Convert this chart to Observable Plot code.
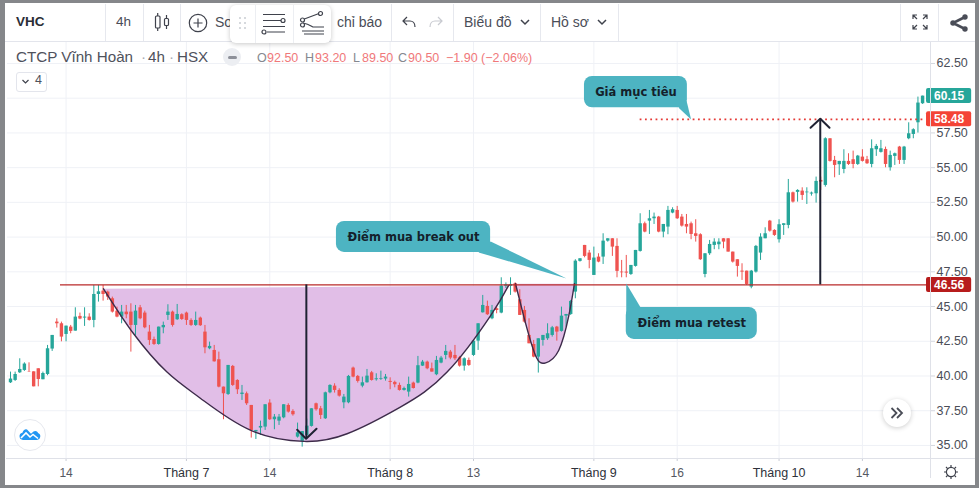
<!DOCTYPE html>
<html lang="vi">
<head>
<meta charset="utf-8">
<script src="https://cdn.jsdelivr.net/npm/d3@7"></script>
<script src="https://cdn.jsdelivr.net/npm/@observablehq/plot@0.6"></script>
<style>
html,body{margin:0;padding:0;background:#fff}
#page{position:relative;width:979px;height:488px;overflow:hidden;font-family:"Liberation Sans",Arial,sans-serif;color:#4a4d57}
#chart{position:absolute;left:0;top:0}
.t{position:absolute;white-space:nowrap;line-height:1}
svg.ic{position:absolute;overflow:visible}
</style>
</head>
<body>
<div id="page"></div>
<script>
const opens=[39.51,39.68,40.23,40.4,40.28,40.3,40.52,39.73,40.11,41.94,43.88,43.76,42.99,43.52,43.23,44.29,44.17,44.24,44,45.87,46.11,46.04,45.56,44.67,44.24,44.6,44.6,43.64,44.91,44.53,43.16,42.63,42.27,43.47,44.36,44.6,44.05,44.41,44.53,44,43.64,44.17,43.16,41.96,41.84,41.17,39.2,38.67,40.69,39.68,38.67,38.72,
37.88,35.98,36.25,36.32,38.05,36.85,36.75,36.99,37.88,37.45,35.6,35.29,35.72,36.37,38,37.64,36.92,38.79,39.27,38.96,38.07,38.07,40.57,39.97,39.27,39.51,40.23,39.73,39.75,39.78,39.61,39.54,39.32,38.96,38.84,39.49,39.49,40.71,41,40.52,40.09,40.93,41.48,41.72,41.48,41.31,40.71,41.12,41.48,42.51,44.55,45.01,
44.12,44.84,44.53,46.45,46.45,46.64,45.49,44.72,42.92,42.27,41.36,42.56,42.68,42.92,43.52,43.21,44.31,44.43,46.04,48.25,49.4,48.85,47.24,48.56,48.56,49.71,49.88,49.33,47.48,47.48,47.31,47.89,48.97,50.96,51.15,51.32,51.44,50.36,50.72,51.73,51.92,51.44,50.91,50.96,50.24,50.17,47.31,48.8,49.4,49.45,49.88,49.88,
48.92,48.37,47.55,47.55,46.4,47.48,48.85,49.88,51.15,50.48,49.81,50.84,50.84,53.19,53.22,53.31,53.19,53.1,53.12,54.08,53.72,57.08,55.52,55.21,54.87,55.45,55.57,55.23,55.76,55.57,55.23,56.29,56.1,56.31,54.99,55.81,56.48,55.52,57.08,57.39,58.23,59.6];
const highs=[40.28,40.28,41.24,40.95,40.95,40.3,40.52,40.28,42.2,42.92,44.12,43.88,43.59,43.64,44.91,44.53,44.91,44.48,46.52,46.52,46.52,46.11,45.68,44.96,45.08,45.08,45.2,45.08,45.08,44.67,43.64,42.8,43.52,43.88,45.13,44.67,45.15,44.48,44.6,44.12,44.6,44.24,43.64,42.44,42.2,41.72,39.2,40.76,40.76,39.73,39.32,38.84,
37.88,36.08,36.75,37.93,38.29,37.23,37.23,37.93,38,37.57,36.61,36,36.9,37.64,38.05,37.81,38.84,39.37,39.44,39.08,38.67,40.04,40.64,40.04,39.92,40.47,40.33,40.16,40.35,40.11,39.87,39.63,39.49,39.2,39.92,39.56,41.41,41.12,41.07,40.93,41.41,41.41,42.2,41.84,42.2,41.41,41.31,41.29,42.56,43.76,45.8,45.39,
45.08,44.96,47.07,46.7,47.07,46.71,46.21,45.01,44.12,42.56,42.68,42.92,43.76,43.57,43.57,44.96,44.43,45.44,48.37,48.44,49.4,49.04,49.28,48.8,50.24,49.88,49.88,49.88,48.32,48.68,47.96,49.04,51.68,51.08,51.92,51.73,51.49,50.91,52.21,52.11,52.21,51.63,51.63,51.08,51.25,50.24,48.8,49.76,49.88,49.88,49.88,49.88,
48.92,48.37,48.08,47.55,47.6,49.4,50.24,50.67,51.2,50.53,51.25,50.96,54.15,53.24,53.41,53.55,53.55,53.24,54.32,54.32,57.15,57.08,55.81,55.45,56.29,56,56.19,55.88,56.29,55.81,57,56.67,56.96,56.48,56.19,56.05,56.53,56.53,58.23,57.8,60.08,60.15];
const lows=[39.46,39.61,40.18,40.33,40.26,39.22,39.22,39.73,40.02,41.77,43.45,42.46,42.46,43.04,43.23,44.05,43.57,43.95,43.47,45.32,45.39,45.44,44.53,44.19,43.76,44.12,41.72,42.92,44.05,43.4,42.2,42.2,42.22,43.04,44,43.52,44,44,43.64,43.57,43.57,43.57,41.6,41.89,41,39.15,36.85,38.6,39.25,38.67,38.24,37.88,
35.53,35.43,35.72,36.08,36.8,36.13,36.44,36.92,37.33,37.11,35.53,34.88,35.6,36.32,37.47,36.87,36.87,38.72,38.77,38.48,37.64,38,39.87,39.49,39.15,39.49,39.63,39.63,39.68,39.63,39.01,39.15,38.91,38.91,38.48,39.06,39.44,40.69,40.45,40.28,40.02,40.88,41.17,41.17,41.12,40.64,40.35,40.69,41.41,41.84,44.53,44.36,
44.05,44.48,44.48,46.3,45.8,45.97,44.36,43.81,42.32,41.31,40.21,42.15,42.56,42.8,42.51,43.16,43.52,44.36,45.56,48.2,48.51,47.72,47.24,48.15,48.03,49.64,48.61,47.07,47.07,47.07,47.24,47.84,48.92,50.31,50.19,50.91,50.31,49.95,50.17,51.68,51.27,50.72,50.24,49.81,49.64,48.32,47.07,48.68,49.09,49.09,49.16,48.92,
48.13,47.12,46.88,46.52,46.28,47.41,48.32,49.88,50.36,50.05,49.57,50.12,50.6,52.45,52.52,52.64,52.35,52.95,52.45,53.36,53.6,55.4,54.27,54.44,54.56,55.16,54.92,55.16,55.4,55.23,54.99,55.81,56.05,54.99,54.75,55.16,55.23,55.23,57.01,57.08,57.49,59.55];
const closes=[39.78,40.11,40.47,40.86,40.26,39.22,39.75,40.18,41.96,42.92,43.76,42.8,43.59,43.21,44.24,44.1,44.24,44,45.87,46.06,45.87,45.68,44.6,44.24,44.6,44.41,43.64,44.67,44.12,43.47,42.56,42.27,43.52,43.64,44.6,43.64,44.43,44.07,44,43.64,44,43.62,42.03,42.13,41.02,39.2,38.72,40.76,39.32,39.01,38.77,38,
36.08,36.08,36.37,37.93,36.85,37.04,37.04,37.93,37.4,37.21,35.91,36,36.39,37.64,37.57,37.16,38.79,39.32,38.96,38.55,38.48,39.97,39.92,39.61,39.51,39.99,39.68,39.8,39.8,39.92,39.54,39.37,38.96,39.1,39.39,39.1,40.74,41,40.52,40.28,41.12,41.29,41.77,41.29,41.24,40.71,41.24,40.76,42.51,43.76,45.08,44.41,
44.72,44.72,46.47,46.57,46.59,46.04,44.36,43.88,42.32,41.36,42.68,42.92,43.04,43.47,43.16,44.31,44.43,45.37,48.27,48.44,48.61,48.32,48.49,48.2,49.71,49.88,49.28,47.53,47.43,47.41,47.96,49.04,50.96,50.36,51.32,51.44,50.36,50.91,51.92,51.97,51.32,50.79,50.72,50.19,50.05,48.37,48.8,49.47,49.64,49.64,49.64,48.92,
48.2,47.89,47.48,46.59,47.55,49.33,50,50.24,50.43,50.12,50.89,50.96,53.19,52.52,53.36,53,53.24,53.17,54.01,53.96,57.08,55.45,55.16,55.45,55.45,55.23,55.23,55.83,55.45,55.28,56.36,56.53,56.36,55.23,55.88,56,55.52,56.48,57.44,57.73,59.65,60.15];

const dayTicks=[12,56,100,144,184];
const dayLabels=["14","14","13","16","14"];
const monthTicks=[38,82,126,166];
const monthLabels=["Tháng 7","Tháng 8","Tháng 9","Tháng 10"];
const priceGrid=[35,37.5,40,42.5,45,47.5,50,52.5,55,57.5,60,62.5];
const priceLabels=[35,37.5,40,42.5,45,47.5,50,52.5,55,57.5,62.5];

const cupX=[20.09,26.6,33.8,41,51.8,63.4,72.7,84.2,94.3,103.7,107.6];
const cupY=[46.28,43.04,40.28,38.4,36.1,35.29,35.84,37.76,40.28,44.35,46.52];
const handleX=[109.07,110.9,113.4,115.6,118.4,120.6,121.8];
const handleY=[46.64,44.24,41.48,40.95,41.84,44.36,46.64];

const neckline=46.56, target=58.48;
const tagValues=[60.15,58.48,46.56];
const tagColors=["#26a69a","#f44336","#b71c1c"];

const callouts=[
 {text:"Giá mục tiêu",x1:123.97,x2:146.2,y1:59.31,y2:61.57,tx:[144.3,147,146],ty:[59.31,58.47,59.84]},
 {text:"Điểm mua break out",x1:70.4,x2:103.7,y1:48.9,y2:51.13,tx:[101.1,120.1,103.7],ty:[48.9,47.02,49.69]},
 {text:"Điểm mua retest",x1:133,x2:161.3,y1:42.63,y2:44.94,tx:[133,133,136.1],ty:[44,46.66,44.94]}
];
const arrows=[
 {x:63.9,from:neckline,to:35.5,hx:[61.92,63.85,66.1],hy:[36.13,35.48,36.2]},
 {x:174.9,from:neckline,to:58.48,hx:[172.8,174.9,176.9],hy:[57.87,58.52,57.87]}
];

const green="#26a69a", red="#ef5350", ink="#1f2233", tealBox="#4db4c2", purple="#e1bee7";
const idx=d3.range(opens.length);
const candleColor=i=>closes[i]>=opens[i]?green:red;
const pairs=(xs,ys)=>xs.map((x,i)=>({x,y:ys[i]}));

const chart=Plot.plot({
  width:979,height:488,
  marginTop:42,marginBottom:30,marginLeft:7,marginRight:49,
  style:{background:"transparent",fontFamily:'"Liberation Sans",Arial,sans-serif',overflow:"visible"},
  x:{domain:[-0.648,198.71]},
  y:{domain:[34.06,64.01]},
  color:{type:"identity"},
  marks:[
    Plot.gridY(priceGrid,{stroke:"#eff1f6",strokeOpacity:1}),
    Plot.gridX([...dayTicks,...monthTicks],{stroke:"#eff1f6",strokeOpacity:1}),
    Plot.line(pairs(cupX,cupY),{x:"x",y:"y",fill:purple,stroke:"none",curve:"natural"}),
    Plot.line(pairs(handleX,handleY),{x:"x",y:"y",fill:purple,stroke:"none",curve:"natural"}),
    Plot.ruleX(idx,{x:i=>i,y1:i=>lows[i],y2:i=>highs[i],stroke:candleColor,strokeWidth:1}),
    Plot.ruleX(idx,{x:i=>i,y1:i=>opens[i],y2:i=>closes[i],stroke:candleColor,strokeWidth:3.4}),
    Plot.line(pairs(cupX,cupY),{x:"x",y:"y",stroke:"#3d2b4a",strokeWidth:1.4,curve:"natural"}),
    Plot.line(pairs(handleX,handleY),{x:"x",y:"y",stroke:"#3d2b4a",strokeWidth:1.4,curve:"natural"}),
    Plot.ruleY([neckline],{x1:10.8,x2:198.71,stroke:"#b92a2a",strokeWidth:1.2}),
    Plot.ruleY([target],{x1:136,x2:197.5,stroke:"#e53935",strokeWidth:1.8,strokeDasharray:"1.8 3.5"}),
    ...arrows.flatMap(a=>[
      Plot.ruleX([a.x],{y1:a.from,y2:a.to,stroke:ink,strokeWidth:2}),
      Plot.line(pairs(a.hx,a.hy),{x:"x",y:"y",stroke:ink,strokeWidth:2})
    ]),
    ...callouts.flatMap(c=>[
      Plot.line(pairs(c.tx,c.ty),{x:"x",y:"y",fill:tealBox,stroke:"none"}),
      Plot.rect([c],{x1:"x1",x2:"x2",y1:"y1",y2:"y2",fill:tealBox,rx:8}),
      Plot.text([c],{x:d=>(d.x1+d.x2)/2,y:d=>(d.y1+d.y2)/2,text:"text",fill:"#14212b",fontWeight:"bold",fontSize:11.5,fontFamily:'"DejaVu Sans",sans-serif'})
    ]),
    Plot.axisY(priceLabels,{anchor:"right",tickSize:4,tickPadding:2,tickFormat:d=>d.toFixed(2),label:null,fill:"#4a4d57",stroke:"#d4d7df",fontSize:12.5}),
    Plot.axisX(dayTicks,{anchor:"bottom",tickSize:3,tickPadding:7,tickFormat:(d,i)=>dayLabels[dayTicks.indexOf(d)],label:null,fill:"#555862",stroke:"#c9ccd5",fontSize:12}),
    Plot.axisX(monthTicks,{anchor:"bottom",tickSize:3,tickPadding:7,tickFormat:(d,i)=>monthLabels[monthTicks.indexOf(d)],label:null,fill:"#2e313a",stroke:"#c9ccd5",fontSize:12.5}),
    Plot.rect(tagValues,{x1:197.85,x2:207.6,y1:d=>d-0.54,y2:d=>d+0.54,fill:(d,i)=>tagColors[i],rx:2}),
    Plot.text(tagValues,{x:202.72,y:d=>d,text:d=>d.toFixed(2),fill:"#fff",fontWeight:"bold",fontSize:12})
  ]
});
chart.id="chart";

const page=document.getElementById("page");
page.appendChild(chart);

function addText(s,x,y,size,color,weight){
  const e=document.createElement("div");e.className="t";e.textContent=s;
  e.style.cssText=`left:${x}px;top:${y-size/2-0.5}px;font-size:${size}px;color:${color||"#4a4d57"};font-weight:${weight||400}`;
  page.appendChild(e);return e;
}
function addBox(css){const e=document.createElement("div");e.style.cssText="position:absolute;"+css;page.appendChild(e);return e;}
function addSvg(x,y,w,h,inner){
  page.insertAdjacentHTML("beforeend",`<svg class="ic" style="left:${x}px;top:${y}px" width="${w}" height="${h}" viewBox="0 0 ${w} ${h}" fill="none" stroke="#3f424c" stroke-width="1.2">${inner}</svg>`);
}

/* panes */
addBox("left:0;top:41px;width:979px;height:1px;background:#e3e5ec");
addBox("left:930px;top:42px;width:1px;height:436px;background:#dfe1e8");
addBox("left:6px;top:458px;width:969px;height:1px;background:#dfe1e8");

/* toolbar */
[105,143,180,391,453,540,618,900,938].forEach(x=>addBox(`left:${x}px;top:4px;height:37px;width:1px;background:#e6e8ee`));
addText("VHC",16,22,13.5,"#2a2d36",700);
addText("4h",116,22,13.5);
addSvg(152,12,20,20,`<rect x="3.5" y="4" width="4.5" height="12" rx="1"/><path d="M5.7 1v3M5.7 16v3"/><rect x="12.5" y="6.5" width="4" height="7" rx="1"/><path d="M14.5 3v3.5M14.5 13.5v3.5"/>`);
addSvg(188,13,20,20,`<circle cx="10" cy="10" r="8.7"/><path d="M10 5.5v9M5.5 10h9"/>`);
addText("So",215,22,14);
addText("chỉ báo",337,22,14);
addSvg(401,15,16,14,`<path d="M14 12c0-4-2.5-6-5-6H2M6 2L2 6l4 4"/>`);
addSvg(428,15,16,14,`<path stroke="#c8cad0" d="M2 12c0-4 2.5-6 5-6h7M10 2l4 4-4 4"/>`);
addText("Biểu đồ",464,22,14);
addSvg(519,18,12,8,`<path stroke-width="1.5" d="M2 2l4 4 4-4"/>`);
addText("Hồ sơ",551,22,14);
addSvg(596,18,12,8,`<path stroke-width="1.5" d="M2 2l4 4 4-4"/>`);
addSvg(911,13,18,18,`<path d="M2 6V2h4M2 2l4 4M16 6V2h-4M16 2l-4 4M2 12v4h4M2 16l4-4M16 12v4h-4M16 16l-4-4"/>`);
addSvg(949,13,20,20,`<g stroke-width="2.6" stroke="#4a4d57"><path d="M16 4L4 10l12 6"/></g><circle cx="16" cy="4" r="2.7" fill="#4a4d57" stroke="none"/><circle cx="4" cy="10" r="2.7" fill="#4a4d57" stroke="none"/><circle cx="16" cy="16" r="2.7" fill="#4a4d57" stroke="none"/>`);

/* floating drawing toolbar */
addBox("left:230px;top:5px;width:101px;height:38px;background:#fff;border-radius:6px;box-shadow:0 1px 5px rgba(0,0,0,.22)");
addBox("left:255px;top:5px;width:1px;height:38px;background:#eceef2");
addBox("left:293px;top:5px;width:1px;height:38px;background:#eceef2");
addSvg(238,16,10,14,`<g fill="#c9ccd2" stroke="none"><circle cx="2" cy="2" r="1"/><circle cx="7" cy="2" r="1"/><circle cx="2" cy="7" r="1"/><circle cx="7" cy="7" r="1"/><circle cx="2" cy="12" r="1"/><circle cx="7" cy="12" r="1"/></g>`);
addSvg(261,12,26,24,`<path d="M2 2.5h22M2 8.5h18M6 20h18M2 14.5h22"/><circle cx="22" cy="8.5" r="2" fill="#fff"/><circle cx="3" cy="20" r="2" fill="#fff"/>`);
addSvg(299,11,26,24,`<path d="M4 8.5L20 2.5M4 12c6 1 8 3 10 4h11M3 20h22M5 23h20"/><circle cx="3.5" cy="9" r="2" fill="#fff"/><circle cx="21.5" cy="2.5" r="2" fill="#fff"/><circle cx="3.5" cy="14" r="2" fill="#fff"/>`);

/* legend */
addText("CTCP Vĩnh Hoàn",16,57,15.2,"#4f525c");
addText("·",141,57,15.2,"#a9abb3");
addText("4h",148,57,15.2,"#4f525c");
addText("·",169,57,15.2,"#a9abb3");
addText("HSX",177,57,15.2,"#4f525c");
addBox("left:223px;top:48px;width:18px;height:18px;border-radius:50%;background:#eceef2");
addBox("left:228px;top:56px;width:9px;height:3px;border-radius:1.5px;background:#8d9099");
const sal="#f0787a", gr="#85888f";
[["O",257,gr],["92.50",267,sal],["H",305,gr],["93.20",315,sal],["L",353,gr],["89.50",362,sal],["C",398,gr],["90.50",408,sal],["−1.90 (−2.06%)",446,sal]]
  .forEach(([s,x,c])=>addText(s,x,59,12.5,c));
addBox("left:16px;top:72px;width:29px;height:18px;border:1px solid #e3e5ec;border-radius:3px;background:#fff");
addSvg(21,79,10,6,`<path stroke-width="1.2" d="M1.5 1l3 3 3-3"/>`);
addText("4",35,81,12.5,"#4f525c");

/* logo */
addBox("left:14px;top:419px;width:30px;height:30px;border-radius:50%;background:#fff;border:1px solid #e6e8ee");
addSvg(19,427,22,14,`<path fill="#2196f3" stroke="none" d="M4 13a3.7 3.7 0 0 1-.6-7.3C5 2 7.5 1.5 9 3.5l3 3.2 2.5-2.2c1.6-1.2 4-.5 4.6 1.6A3.6 3.6 0 0 1 18 13z"/><path stroke="#fff" stroke-width="1.6" d="M2 11l5-5 4 4 3-2.5 5 4"/>`);

/* scroll button */
addBox("left:883px;top:399px;width:28px;height:28px;border-radius:50%;background:#fff;box-shadow:0 1px 5px rgba(0,0,0,.2)");
addSvg(890,407,14,12,`<path stroke="#4a4d57" stroke-width="1.8" d="M1.5 1l5 5-5 5M7 1l5 5-5 5"/>`);

/* settings */
addSvg(943,464,16,16,`<circle cx="8" cy="8" r="4.6"/><path d="M8 1v2.2M8 12.8V15M1 8h2.2M12.8 8H15M3 3l1.6 1.6M11.4 11.4L13 13M13 3l-1.6 1.6M4.6 11.4L3 13"/>`);

/* outer frame */
addBox("left:0;top:0;width:979px;height:488px;box-sizing:border-box;border-style:solid;border-color:#85878a;border-width:3px 4px 3px 5px;pointer-events:none");
</script>
</body>
</html>
